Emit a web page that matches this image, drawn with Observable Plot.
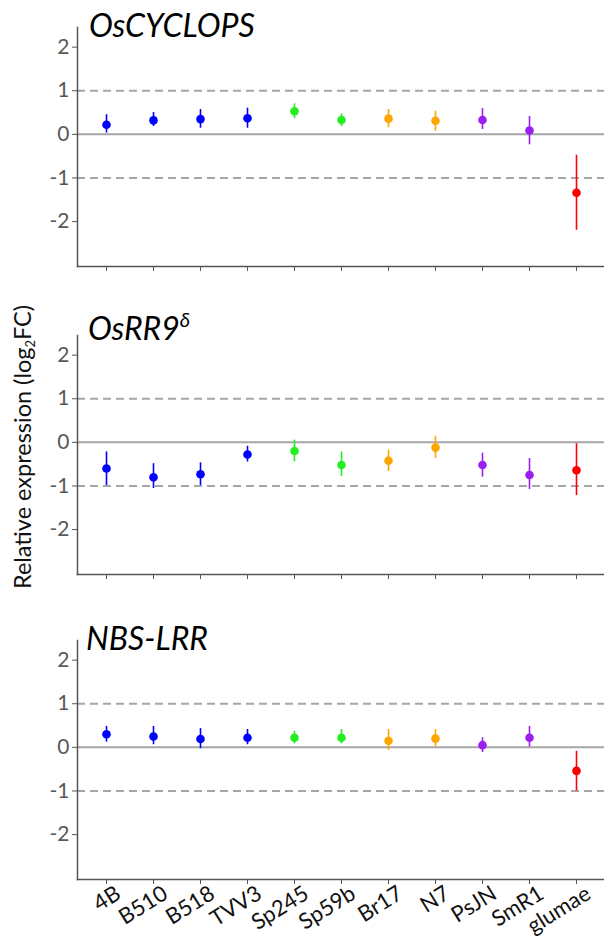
<!DOCTYPE html>
<html>
<head>
<meta charset="utf-8">
<script src="https://cdn.jsdelivr.net/npm/d3@7"></script>
<script src="https://cdn.jsdelivr.net/npm/@observablehq/plot@0.6"></script>
<style>
  body { margin: 0; background: #fff; }
  #wrap { position: relative; width: 604px; height: 941px; overflow: hidden; }
  .panel { position: absolute; left: 0; }
  #overlay { position: absolute; left: 0; top: 0; pointer-events: none; }
</style>
</head>
<body>
<div id="wrap"></div>
<script>
// ---- data ----
const strains = ["4B", "B510", "B518", "TVV3", "Sp245", "Sp59b", "Br17", "N7", "PsJN", "SmR1", "glumae"];
const strainGroup = ["G1", "G1", "G1", "G1", "G2", "G2", "G3", "G3", "G4", "G4", "G5"];
const groupNames = ["G1", "G2", "G3", "G4", "G5"];
const groupColors = ["#0000ff", "#22ee22", "#ffa500", "#9a1ff0", "#ff0000"];

const genes = ["OsCYCLOPS", "OsRR9", "NBS-LRR"];

const cyclopsMean = [0.22, 0.32, 0.35, 0.37, 0.53, 0.33, 0.36, 0.31, 0.33, 0.09, -1.34];
const cyclopsLow  = [0.03, 0.18, 0.14, 0.14, 0.36, 0.18, 0.15, 0.07, 0.11, -0.24, -2.20];
const cyclopsHigh = [0.45, 0.50, 0.57, 0.60, 0.70, 0.47, 0.57, 0.53, 0.59, 0.41, -0.48];

const rr9Mean = [-0.60, -0.80, -0.73, -0.28, -0.20, -0.52, -0.42, -0.12, -0.52, -0.75, -0.64];
const rr9Low  = [-0.99, -1.06, -0.99, -0.45, -0.45, -0.78, -0.67, -0.37, -0.80, -1.08, -1.22];
const rr9High = [-0.22, -0.49, -0.47, -0.09, 0.05, -0.22, -0.18, 0.14, -0.25, -0.37, -0.03];

const nbsMean = [0.30, 0.25, 0.19, 0.22, 0.22, 0.22, 0.15, 0.20, 0.05, 0.22, -0.54];
const nbsLow  = [0.12, 0.06, -0.03, 0.06, 0.08, 0.08, -0.07, 0.01, -0.12, 0.01, -1.00];
const nbsHigh = [0.48, 0.48, 0.43, 0.41, 0.37, 0.41, 0.41, 0.41, 0.22, 0.48, -0.09];

const yTicks = [-2, -1, 0, 1, 2];
const refLines = [-1, 1];

// ---- layout ----
const W = 604;
const wrap = document.getElementById("wrap");

function table(mean, low, high) {
  return strains.map((s, i) => ({ strain: s, group: strainGroup[i], mean: mean[i], low: low[i], high: high[i] }));
}

function panel(data, top, showLabels) {
  const mb = showLabels ? 62 : 10;
  const marks = [
    Plot.ruleY(refLines, { stroke: "#a6a6a6", strokeWidth: 2, strokeDasharray: "8,5" }),
    Plot.ruleY([0], { stroke: "#a6a6a6", strokeWidth: 2 }),
    Plot.ruleX(data, { x: "strain", y1: "low", y2: "high", stroke: "group", strokeWidth: 1.6 }),
    Plot.dot(data, { x: "strain", y: "mean", fill: "group", r: 4.3 }),
    Plot.frame({ anchor: "left", stroke: "#555", strokeWidth: 1.5 }),
    Plot.frame({ anchor: "bottom", stroke: "#555", strokeWidth: 1.5 }),
    Plot.axisY({ ticks: yTicks, tickFormat: d => String(d), tickSize: 5, tickPadding: 3,
                 fontSize: 21, color: "#595959", stroke: "#555", label: null }),
    Plot.axisX({ tickSize: 5, stroke: "#555", label: null, text: null })
  ];
  if (showLabels) {
    marks.push(Plot.axisX({ tickSize: 0, tickPadding: 10, label: null, tickRotate: -32,
                            fontSize: 22, fill: "#111", dx: 12, dy: 2 }));
  }
  const chart = Plot.plot({
    width: W,
    height: 10 + 239 + mb,
    marginLeft: 77,
    marginRight: 0,
    marginTop: 10,
    marginBottom: mb,
    style: { fontFamily: "Lato, 'Open Sans', sans-serif", fontSize: "21px", background: "transparent", overflow: "visible" },
    x: { type: "point", domain: strains, padding: 0.6, label: null },
    y: { domain: [-3.03, 2.45], label: null },
    color: { domain: groupNames, range: groupColors },
    marks
  });
  chart.classList.add("panel");
  chart.style.top = top + "px";
  wrap.appendChild(chart);
}

panel(table(cyclopsMean, cyclopsLow, cyclopsHigh), 17, false);
panel(table(rr9Mean, rr9Low, rr9High), 325, false);
panel(table(nbsMean, nbsLow, nbsHigh), 630, true);

// ---- titles & y label ----
const svg = d3.select(wrap).append("svg")
  .attr("id", "overlay").attr("width", W).attr("height", 941)
  .style("font-family", "Lato, 'Open Sans', sans-serif");

const titlePos = [[89, 37], [88, 340], [86, 650]];
genes.forEach((g, i) => {
  const t = svg.append("text")
    .attr("x", titlePos[i][0]).attr("y", titlePos[i][1])
    .attr("font-size", 32).attr("font-style", "italic").attr("fill", "#000");
  t.append("tspan").text(g);
  if (g === "OsRR9") {
    t.append("tspan").attr("font-size", 20).attr("dy", -13).text("δ");
  }
});

const yl = svg.append("text")
  .attr("transform", "translate(31,447) rotate(-90)")
  .attr("text-anchor", "middle")
  .attr("font-size", 23.5).attr("fill", "#111");
yl.append("tspan").text("Relative expression (log");
yl.append("tspan").attr("font-size", 13).attr("dy", 4).text("2");
yl.append("tspan").attr("dy", -4).text("FC)");
</script>
</body>
</html>
